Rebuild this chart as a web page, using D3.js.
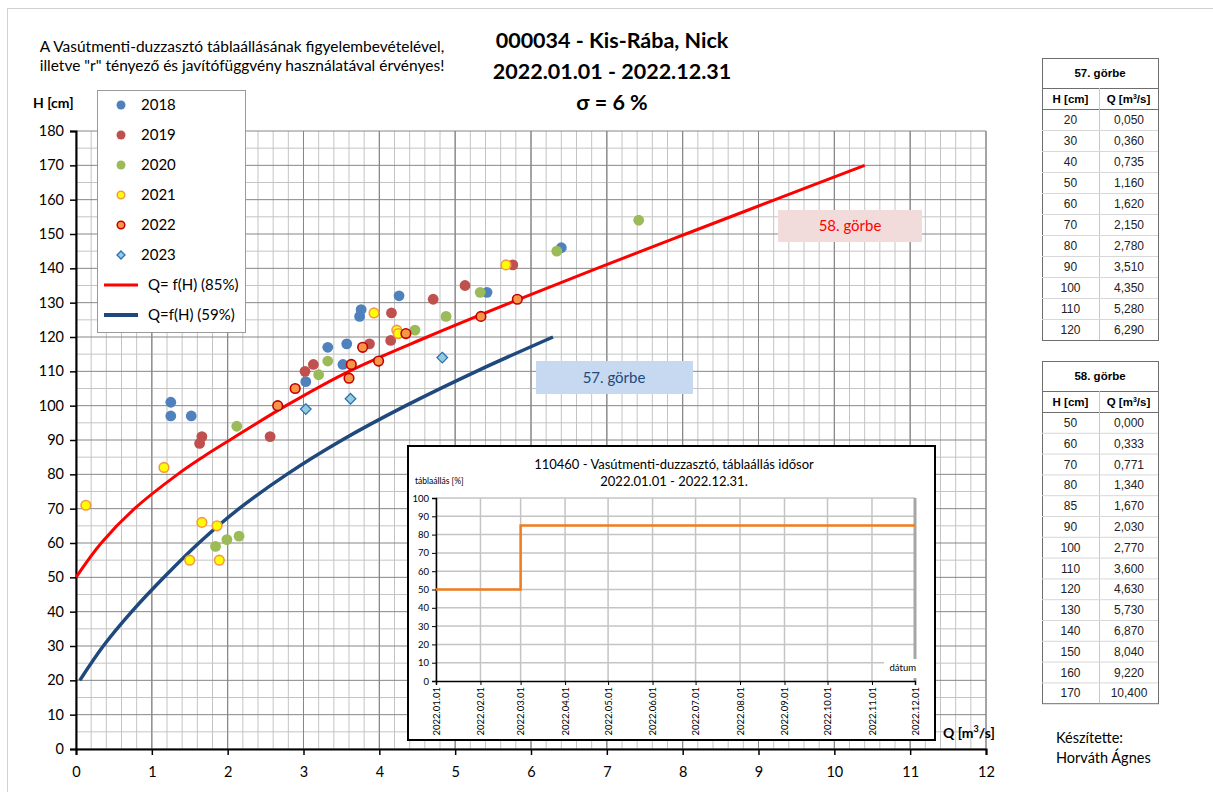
<!DOCTYPE html>
<html>
<head>
<meta charset="utf-8">
<script src="https://cdn.jsdelivr.net/npm/d3@7"></script>
<style>
  body { margin: 0; background: #fff; }
  svg { display: block; }
  text { font-family: Lato, "Liberation Sans", sans-serif; fill: #000; }
  .tbl text { font-family: "Liberation Sans", Arial, sans-serif; }
</style>
</head>
<body>
<svg id="chart" width="1213" height="792"></svg>
<script>
// measured points, Q [m3/s] and H [cm] per year
var q2018 = [1.25, 1.25, 1.52, 3.03, 3.32, 3.57, 3.52, 3.74, 3.76, 4.26, 5.42, 6.40];
var h2018 = [101, 97, 97, 107, 117, 118, 112, 126, 128, 132, 133, 146];
var q2019 = [1.66, 1.63, 2.56, 3.02, 3.13, 3.87, 4.16, 4.15, 4.71, 5.13, 5.76];
var h2019 = [91, 89, 91, 110, 112, 118, 127, 119, 131, 135, 141];
var q2020 = [2.12, 3.20, 3.32, 4.47, 4.88, 5.33, 6.34, 7.42, 1.84, 1.99, 2.15];
var h2020 = [94, 109, 113, 122, 126, 133, 145, 154, 59, 61, 62];
var q2021 = [0.13, 1.16, 1.66, 1.86, 1.50, 1.89, 3.93, 4.23, 4.25, 5.67];
var h2021 = [71, 82, 66, 65, 55, 55, 127, 122, 121, 141];
var q2022 = [2.66, 2.89, 3.63, 3.60, 3.78, 3.99, 4.35, 5.34, 5.82];
var h2022 = [100, 105, 112, 108, 117, 113, 121, 126, 131];
var q2023 = [3.03, 3.62, 4.83];
var h2023 = [99, 102, 114];

// rating curves (tables)
var curve57H = [20, 30, 40, 50, 60, 70, 80, 90, 100, 110, 120];
var curve57Q = [0.050, 0.360, 0.735, 1.160, 1.620, 2.150, 2.780, 3.510, 4.350, 5.280, 6.290];
var curve58H = [50, 60, 70, 80, 85, 90, 100, 110, 120, 130, 140, 150, 160, 170];
var curve58Q = [0.000, 0.333, 0.771, 1.340, 1.670, 2.030, 2.770, 3.600, 4.630, 5.730, 6.870, 8.040, 9.220, 10.400];

// gate position time series (inset)
var gateDates = ["2022.01.01", "2022.03.01", "2022.12.01"];
var gatePct = [50, 85, 85];

var years = ["2018", "2019", "2020", "2021", "2022", "2023"];
var yearQ = [q2018, q2019, q2020, q2021, q2022, q2023];
var yearH = [h2018, h2019, h2020, h2021, h2022, h2023];

var svg = d3.select("#chart");

// marker styles
var markFill = ["#4F81BD", "#C0504D", "#9BBB59", "#FFFF00", "#F79646", "#92CDDC"];
var markStroke = ["none", "none", "none", "#F79646", "#C00000", "#2E6DB4"];

// frame
svg.append("rect").attr("x", 7.5).attr("y", 8.5).attr("width", 1230).attr("height", 800)
  .attr("fill", "none").attr("stroke", "#D0D0D0");

var x = d3.scaleLinear().domain([0, 12]).range([76, 986]);
var y = d3.scaleLinear().domain([0, 180]).range([749, 131]);

// grid
var grid = svg.append("g");
grid.selectAll(".vminor").data(d3.range(0, 60.5, 1).map(function (d) { return d / 5; }))
  .enter().append("line")
  .attr("x1", function (d) { return x(d); }).attr("x2", function (d) { return x(d); })
  .attr("y1", y(180)).attr("y2", y(0))
  .attr("stroke", function (d, i) { return i % 5 == 0 ? "#868686" : "#C4C4C4"; })
  .attr("stroke-width", 1);
grid.selectAll(".hminor").data(d3.range(0, 181, 5))
  .enter().append("line")
  .attr("x1", x(0)).attr("x2", x(12))
  .attr("y1", function (d) { return y(d); }).attr("y2", function (d) { return y(d); })
  .attr("stroke", function (d) { return d % 10 == 0 ? "#868686" : "#C4C4C4"; })
  .attr("stroke-width", 1);
// redraw majors on top
grid.selectAll(".vmajor").data(d3.range(0, 13))
  .enter().append("line")
  .attr("x1", function (d) { return x(d); }).attr("x2", function (d) { return x(d); })
  .attr("y1", y(180)).attr("y2", y(0)).attr("stroke", "#868686");

// axes
var yAxis = d3.axisLeft(y).tickValues(d3.range(0, 181, 10)).tickSize(6).tickPadding(6);
var gy = svg.append("g").attr("transform", "translate(" + x(0) + ",0)").call(yAxis);
var xAxis = d3.axisBottom(x).tickValues(d3.range(0, 13)).tickSize(6).tickPadding(12);
var gx = svg.append("g").attr("transform", "translate(0," + y(0) + ")").call(xAxis);
[gx, gy].forEach(function (g) {
  g.select(".domain").attr("stroke", "#000").attr("stroke-width", 2);
  g.selectAll(".tick line").attr("stroke", "#000").attr("stroke-width", 1.5);
  g.selectAll(".tick text").style("font-family", "Lato").style("font-size", "14.5px").attr("fill", "#000");
});

// rating curves
var line = d3.line().x(function (d) { return x(d[0]); }).y(function (d) { return y(d[1]); })
  .curve(d3.curveCatmullRom);
svg.append("path").datum(curve58Q.map(function (q, i) { return [q, curve58H[i]]; }))
  .attr("d", line).attr("fill", "none").attr("stroke", "#FF0000").attr("stroke-width", 3);
svg.append("path").datum(curve57Q.map(function (q, i) { return [q, curve57H[i]]; }))
  .attr("d", line).attr("fill", "none").attr("stroke", "#1F497D").attr("stroke-width", 3.5);

// markers
var diamond = "M0,-5.3L5.3,0L0,5.3L-5.3,0Z";
years.forEach(function (yr, k) {
  var pts = yearQ[k].map(function (q, i) { return [q, yearH[k][i]]; });
  var g = svg.append("g");
  if (yr == "2023") {
    g.selectAll("path").data(pts).enter().append("path")
      .attr("d", diamond)
      .attr("transform", function (d) { return "translate(" + x(d[0]) + "," + y(d[1]) + ")"; })
      .attr("fill", markFill[k]).attr("stroke", markStroke[k]).attr("stroke-width", 1.3);
  } else {
    g.selectAll("circle").data(pts).enter().append("circle")
      .attr("cx", function (d) { return x(d[0]); }).attr("cy", function (d) { return y(d[1]); })
      .attr("r", markStroke[k] == "none" ? 5.4 : 4.8)
      .attr("fill", markFill[k]).attr("stroke", markStroke[k]).attr("stroke-width", 1.6);
  }
});

// curve label boxes
svg.append("rect").attr("x", 778).attr("y", 210).attr("width", 144).attr("height", 32).attr("fill", "#F2DCDB");
svg.append("text").attr("x", 850).attr("y", 231).attr("text-anchor", "middle")
  .style("font-size", "15px").style("fill", "#FF0000").text("58. görbe");
svg.append("rect").attr("x", 536).attr("y", 361).attr("width", 157).attr("height", 33).attr("fill", "#C6D9F1");
svg.append("text").attr("x", 614).attr("y", 383).attr("text-anchor", "middle")
  .style("font-size", "15px").style("fill", "#1F497D").text("57. görbe");

// legend
var leg = svg.append("g");
leg.append("rect").attr("x", 97.5).attr("y", 90.5).attr("width", 148).attr("height", 242)
  .attr("fill", "#fff").attr("stroke", "#9A9A9A");
years.forEach(function (yr, k) {
  var ly = 105 + k * 30;
  if (yr == "2023") {
    leg.append("path").attr("d", "M0,-4L4,0L0,4L-4,0Z").attr("transform", "translate(121," + ly + ")")
      .attr("fill", markFill[k]).attr("stroke", markStroke[k]).attr("stroke-width", 1.3);
  } else {
    leg.append("circle").attr("cx", 121).attr("cy", ly).attr("r", markStroke[k] == "none" ? 4.5 : 3.8)
      .attr("fill", markFill[k]).attr("stroke", markStroke[k]).attr("stroke-width", 1.5);
  }
  leg.append("text").attr("x", 141).attr("y", ly + 5).style("font-size", "15px").text(yr);
});
var lineLeg = [["Q= f(H) (85%)", "#FF0000", 3], ["Q=f(H) (59%)", "#1F497D", 4]];
lineLeg.forEach(function (d, i) {
  var ly = 285 + i * 30;
  leg.append("line").attr("x1", 104).attr("x2", 138).attr("y1", ly).attr("y2", ly)
    .attr("stroke", d[1]).attr("stroke-width", d[2]);
  leg.append("text").attr("x", 148).attr("y", ly + 5).style("font-size", "15px").text(d[0]);
});

// titles
svg.append("text").attr("x", 242).attr("y", 52).attr("text-anchor", "middle").style("font-size", "15.5px")
  .text("A Vasútmenti-duzzasztó táblaállásának figyelembevételével,");
svg.append("text").attr("x", 242).attr("y", 71).attr("text-anchor", "middle").style("font-size", "15.5px")
  .text("illetve \"r\" tényező és javítófüggvény használatával érvényes!");
var titles = ["000034 - Kis-Rába, Nick", "2022.01.01 - 2022.12.31", "σ = 6 %"];
titles.forEach(function (t, i) {
  svg.append("text").attr("x", 612).attr("y", 48 + i * 31).attr("text-anchor", "middle")
    .style("font-size", "21.5px").style("font-weight", "bold").text(t);
});
svg.append("text").attr("x", 33).attr("y", 108).style("font-size", "14px").style("font-weight", "bold").text("H [cm]");
var qlab = svg.append("text").attr("x", 943).attr("y", 738).style("font-size", "14px").style("font-weight", "bold");
qlab.append("tspan").text("Q [m");
qlab.append("tspan").attr("dy", -6).style("font-size", "9px").text("3");
qlab.append("tspan").attr("dy", 6).text("/s]");

svg.append("text").attr("x", 1056).attr("y", 743).style("font-size", "14.5px").text("Készítette:");
svg.append("text").attr("x", 1056).attr("y", 763).style("font-size", "14.5px").text("Horváth Ágnes");

// tables
function drawTable(title, hs, qs, top, rowH) {
  var g = svg.append("g").attr("class", "tbl");
  var left = 1042, right = 1158, mid = 1099;
  var headH = 30, subH = 21;
  var bottom = top + headH + subH + hs.length * rowH;
  g.append("rect").attr("x", left + 0.5).attr("y", top + 0.5).attr("width", right - left).attr("height", bottom - top)
    .attr("fill", "#fff").attr("stroke", "#6E6E6E");
  g.append("text").attr("x", (left + right) / 2).attr("y", top + 19).attr("text-anchor", "middle")
    .style("font-size", "11.5px").style("font-weight", "bold").text(title);
  g.append("line").attr("x1", left).attr("x2", right).attr("y1", top + headH + 0.5).attr("y2", top + headH + 0.5).attr("stroke", "#6E6E6E");
  g.append("line").attr("x1", left).attr("x2", right).attr("y1", top + headH + subH + 0.5).attr("y2", top + headH + subH + 0.5).attr("stroke", "#6E6E6E");
  g.append("line").attr("x1", mid + 0.5).attr("x2", mid + 0.5).attr("y1", top + headH).attr("y2", bottom).attr("stroke", "#C8C8C8");
  g.append("text").attr("x", (left + mid) / 2).attr("y", top + headH + 15).attr("text-anchor", "middle")
    .style("font-size", "11.5px").style("font-weight", "bold").text("H [cm]");
  var qt = g.append("text").attr("x", (mid + right) / 2).attr("y", top + headH + 15).attr("text-anchor", "middle")
    .style("font-size", "11.5px").style("font-weight", "bold");
  qt.append("tspan").text("Q [m");
  qt.append("tspan").attr("dy", -4).style("font-size", "7px").text("3");
  qt.append("tspan").attr("dy", 4).text("/s]");
  hs.forEach(function (h, i) {
    var ry = top + headH + subH + i * rowH;
    if (i > 0) g.append("line").attr("x1", left).attr("x2", right).attr("y1", ry + 0.5).attr("y2", ry + 0.5).attr("stroke", "#D8D8D8");
    g.append("text").attr("x", (left + mid) / 2).attr("y", ry + 15).attr("text-anchor", "middle")
      .style("font-size", "12px").style("fill", "#222").text(h);
    g.append("text").attr("x", 1129).attr("y", ry + 15).attr("text-anchor", "middle")
      .style("font-size", "12px").style("fill", "#222").text(d3.format(".3f")(qs[i]).replace(".", ","));
  });
}
drawTable("57. görbe", curve57H, curve57Q, 58, 21);
drawTable("58. görbe", curve58H, curve58Q, 361, 20.8);

// inset: gate position time series
var parse = d3.timeParse("%Y.%m.%d");
var fmt = d3.timeFormat("%Y.%m.%d");
var ins = svg.append("g");
ins.append("rect").attr("x", 408).attr("y", 446).attr("width", 527).attr("height", 294)
  .attr("fill", "#fff").attr("stroke", "#000").attr("stroke-width", 2);
var ix = d3.scaleTime().domain([parse(gateDates[0]), parse(gateDates[gateDates.length - 1])]).range([436, 915]);
var iy = d3.scaleLinear().domain([0, 100]).range([681, 498]);
var months = d3.timeMonth.range(parse("2022.01.01"), d3.timeDay.offset(parse("2022.12.01"), 1));
ins.selectAll(".ig").data(d3.range(10, 101, 10)).enter().append("line")
  .attr("x1", 436).attr("x2", 915).attr("y1", function (d) { return iy(d); }).attr("y2", function (d) { return iy(d); })
  .attr("stroke", "#C4C4C4").attr("stroke-width", 1.5);
ins.selectAll(".iv").data(months).enter().append("line")
  .attr("x1", function (d) { return ix(d); }).attr("x2", function (d) { return ix(d); })
  .attr("y1", 498).attr("y2", 681)
  .attr("stroke", function (d, i) { return i == months.length - 1 ? "#A6A6A6" : "#C4C4C4"; })
  .attr("stroke-width", function (d, i) { return i == months.length - 1 ? 3 : 1.5; });
ins.append("rect").attr("x", 884).attr("y", 659).attr("width", 36).attr("height", 19).attr("fill", "#fff");
ins.append("text").attr("x", 916).attr("y", 671).attr("text-anchor", "end").style("font-size", "9.5px").text("dátum");

var iya = d3.axisLeft(iy).tickValues(d3.range(0, 101, 10)).tickSize(4).tickPadding(3);
var giy = ins.append("g").attr("transform", "translate(436,0)").call(iya);
var ixa = d3.axisBottom(ix).tickValues(months).tickSize(4).tickFormat(fmt);
var gix = ins.append("g").attr("transform", "translate(0,681)").call(ixa);
[giy, gix].forEach(function (g) {
  g.select(".domain").attr("stroke", "#000").attr("stroke-width", 1.5);
  g.selectAll(".tick line").attr("stroke", "#000");
  g.selectAll(".tick text").style("font-family", "Lato").style("font-size", "9.5px").attr("fill", "#000");
});
gix.selectAll(".tick text").attr("transform", "rotate(-90)").attr("text-anchor", "end")
  .attr("x", -6).attr("y", 0).attr("dy", "0.35em");

var step = d3.line().x(function (d) { return ix(d[0]); }).y(function (d) { return iy(d[1]); }).curve(d3.curveStepAfter);
ins.append("path").datum(gateDates.map(function (d, i) { return [parse(d), gatePct[i]]; }))
  .attr("d", step).attr("fill", "none").attr("stroke", "#F07C1E").attr("stroke-width", 2.5);

ins.append("text").attr("x", 674).attr("y", 469).attr("text-anchor", "middle").style("font-size", "13px")
  .text("110460 - Vasútmenti-duzzasztó, táblaállás idősor");
ins.append("text").attr("x", 674).attr("y", 486).attr("text-anchor", "middle").style("font-size", "13px")
  .text("2022.01.01 - 2022.12.31.");
ins.append("text").attr("x", 415).attr("y", 484).style("font-size", "8.5px").text("táblaállás [%]");
</script>
</body>
</html>
